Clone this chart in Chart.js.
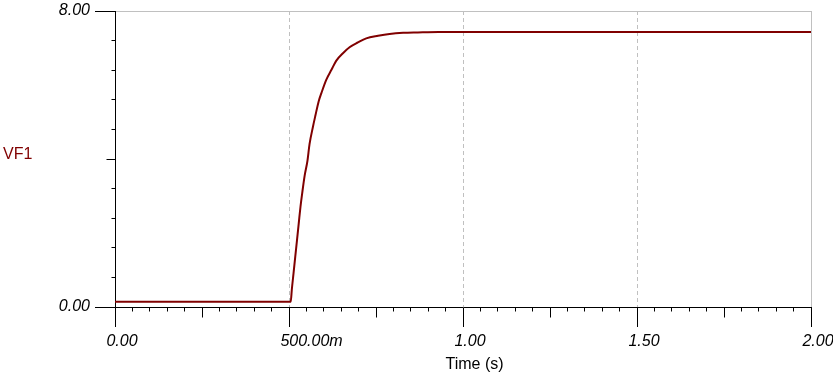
<!DOCTYPE html>
<html><head><meta charset="utf-8">
<script src="https://cdn.jsdelivr.net/npm/chart.js@4.4.1/dist/chart.umd.min.js"></script>
<style>html,body{margin:0;padding:0;background:#fff;overflow:hidden}</style>
</head><body>
<canvas id="c" width="833" height="379"></canvas>
<script>
// ---- data ----
const timeValues = [0, 0.505, 0.508, 0.513, 0.518, 0.523, 0.528, 0.533, 0.538, 0.545, 0.553, 0.559, 0.569, 0.576, 0.585, 0.593, 0.607, 0.622, 0.636, 0.655, 0.674, 0.698, 0.722, 0.756, 0.789, 0.828, 0.870, 0.930, 2.0];
const vf1Values  = [0.14, 0.14, 0.46, 0.91, 1.36, 1.81, 2.26, 2.71, 3.08, 3.55, 3.95, 4.40, 4.88, 5.18, 5.55, 5.78, 6.14, 6.41, 6.66, 6.86, 7.02, 7.15, 7.26, 7.33, 7.38, 7.41, 7.42, 7.43, 7.43];
const xTickValues = [0, 0.5, 1, 1.5, 2];
const xTickLabels = ['0.00', '500.00m', '1.00', '1.50', '2.00'];
const yTickValues = [0, 8];
const yTickLabels = ['0.00', '8.00'];
const xMinorStep = 0.05, xMidStep = 0.25;
const yMinorStep = 0.8, yMidValue = 4;
const yAxisTitle = 'VF1';
const xAxisTitle = 'Time (s)';

const points = timeValues.map((t, i) => ({x: t, y: vf1Values[i]}));
const near = (a, b) => Math.abs(a - b) < 1e-6;
const al = p => Math.round(p - 0.5) + 0.5;

const decor = {
  id: 'decor',
  beforeDatasetsDraw(chart) {
    const {ctx, chartArea: ca, scales: {x}} = chart;
    ctx.save();
    ctx.strokeStyle = '#c0c0c0'; ctx.lineWidth = 1;
    const xr = al(x.getPixelForValue(2));
    ctx.beginPath(); ctx.moveTo(xr, ca.top); ctx.lineTo(xr, ca.bottom); ctx.stroke();
    ctx.restore();
  },
  afterDraw(chart) {
    const {ctx, chartArea: ca, scales: {x, y}} = chart;
    ctx.save();
    ctx.strokeStyle = '#000'; ctx.lineWidth = 1;
    const ay = al(ca.bottom), ax = al(ca.left);
    const nx = Math.round((x.max - x.min) / xMinorStep);
    for (let k = 0; k <= nx; k++) {
      const v = x.min + k * xMinorStep;
      if (xTickValues.some(t => near(t, v))) continue;
      const len = near(Math.round(v / xMidStep) * xMidStep, v) ? 10 : 4;
      const px = al(x.getPixelForValue(v));
      ctx.beginPath(); ctx.moveTo(px, ay); ctx.lineTo(px, ay + len); ctx.stroke();
    }
    const ny = Math.round((y.max - y.min) / yMinorStep);
    for (let k = 0; k <= ny; k++) {
      const v = y.min + k * yMinorStep;
      if (yTickValues.some(t => near(t, v))) continue;
      const len = near(v, yMidValue) ? 9 : 4;
      const py = al(y.getPixelForValue(v));
      ctx.beginPath(); ctx.moveTo(ax, py); ctx.lineTo(ax - len, py); ctx.stroke();
    }
    ctx.font = '16px "Liberation Sans", Arial, sans-serif';
    ctx.textBaseline = 'alphabetic';
    ctx.fillStyle = '#800000'; ctx.textAlign = 'left';
    ctx.fillText(yAxisTitle, 3, 159);
    ctx.fillStyle = '#000'; ctx.textAlign = 'center';
    ctx.fillText(xAxisTitle, 474.5, 369);
    ctx.restore();
  }
};

new Chart(document.getElementById('c'), {
  type: 'line',
  data: { datasets: [{ data: points, borderColor: '#800000', borderWidth: 2, pointRadius: 0, fill: false, cubicInterpolationMode: 'monotone' }] },
  options: {
    responsive: false, animation: false, devicePixelRatio: 1,
    layout: { padding: { top: 11, right: 22, bottom: 0, left: 0 } },
    plugins: { legend: { display: false }, tooltip: { enabled: false } },
    scales: {
      x: {
        type: 'linear', min: 0, max: 2,
        afterBuildTicks: s => { s.ticks = xTickValues.map(v => ({value: v})); },
        afterFit: s => { s.paddingLeft = 0; s.paddingRight = 0; s.height = 72; },
        ticks: {
          autoSkip: false, maxRotation: 0, align: 'start', labelOffset: -8.6, padding: 5,
          color: '#000', font: { family: '"Liberation Sans", Arial, sans-serif', size: 16, style: 'italic' },
          callback: (v, i) => xTickLabels[i]
        },
        grid: {
          drawTicks: true, tickLength: 20, tickWidth: 1, tickColor: '#000',
          lineWidth: 1,
          color: c => (c.tick && (near(c.tick.value, 0) || near(c.tick.value, 2))) ? 'rgba(0,0,0,0)' : '#c0c0c0'
        },
        border: { display: true, color: '#000', width: 1, dash: [4, 3] }
      },
      y: {
        type: 'linear', min: 0, max: 8,
        afterBuildTicks: s => { s.ticks = yTickValues.map(v => ({value: v})); },
        afterFit: s => { s.paddingTop = 0; s.paddingBottom = 0; s.width = 115; },
        ticks: {
          autoSkip: false, padding: 5,
          color: '#000', font: { family: '"Liberation Sans", Arial, sans-serif', size: 16, style: 'italic' },
          callback: (v, i) => yTickLabels[i]
        },
        grid: {
          drawTicks: true, tickLength: 20, tickWidth: 1, tickColor: '#000', lineWidth: 1,
          color: c => (c.tick && near(c.tick.value, 8)) ? '#c0c0c0' : 'rgba(0,0,0,0)'
        },
        border: { display: true, color: '#000', width: 1 }
      }
    }
  },
  plugins: [decor]
});
</script>
</body></html>
